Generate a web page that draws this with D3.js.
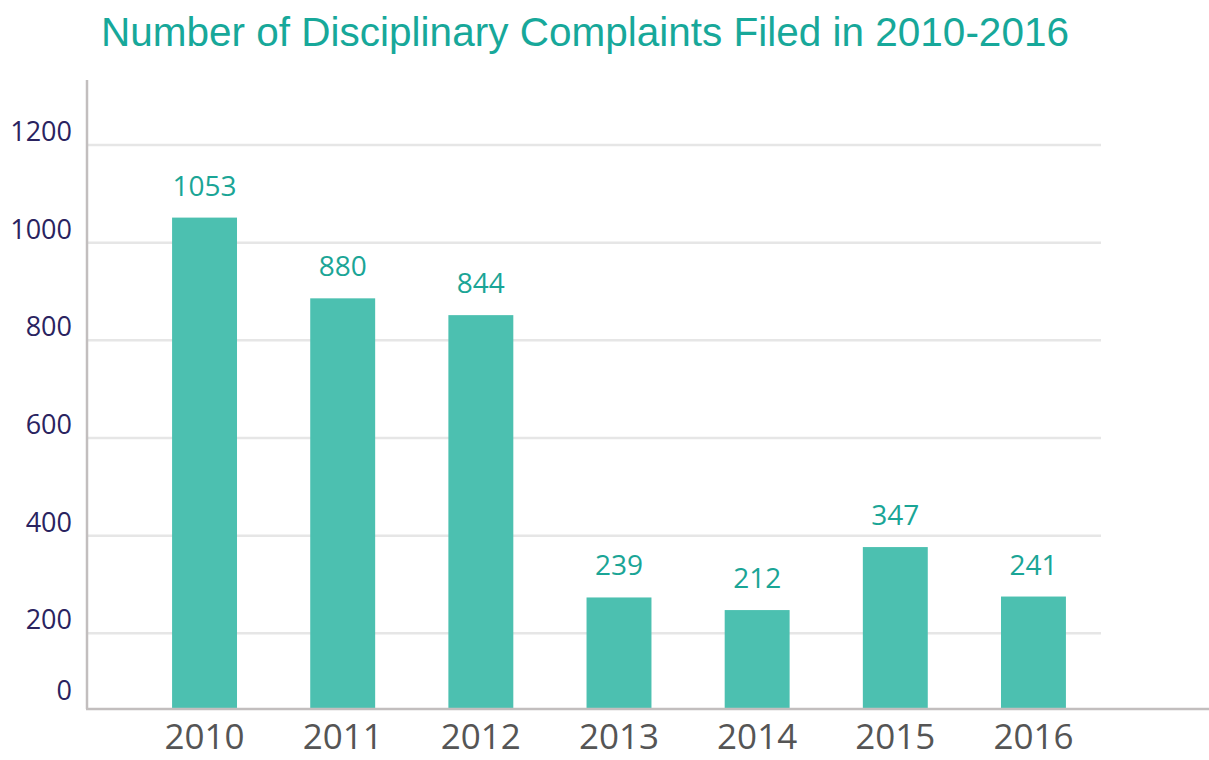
<!DOCTYPE html>
<html>
<head>
    <title>Disciplinary Complaints 2010-2016</title>
    <style>
        html, body { margin: 0; padding: 0; background: #fff; }
        .tick-label { font-family: "Open Sans", sans-serif; font-size: 27px; fill: #2a235f; text-anchor: end; }
        .year-label { font-family: "Open Sans", sans-serif; font-size: 35px; fill: #555555; text-anchor: middle; }
        .value-label { font-family: "Open Sans", sans-serif; font-size: 28px; fill: #1aa596; text-anchor: middle; }
    </style>
    <script src="https://d3js.org/d3.v7.min.js"></script>
</head>
<body>
<svg id="chart"></svg>
<script>
const years = ["2010", "2011", "2012", "2013", "2014", "2015", "2016"];
const complaints = [1053, 880, 844, 239, 212, 347, 241];
const yTicks = [0, 200, 400, 600, 800, 1000, 1200];

const width = 1209, height = 760;
const svg = d3.select("#chart").attr("width", width).attr("height", height);

const baseY = 709;

// gridline scale (as drawn in the original)
const yGrid = d3.scaleLinear().domain([0, 1200]).range([731, 145]);
// bar scale
const yBar = d3.scaleLinear().domain([0, 1200]).range([baseY, baseY - 560]);

const x = d3.scaleBand()
    .domain(years)
    .range([103, 1135])
    .paddingInner(0.53)
    .paddingOuter(0.5);

svg.append("text")
    .attr("x", 585)
    .attr("y", 46)
    .attr("text-anchor", "middle")
    .attr("font-family", "'Liberation Sans', Arial, sans-serif")
    .attr("font-size", "40.5px")
    .attr("fill", "#17a89a")
    .text("Number of Disciplinary Complaints Filed in 2010-2016");

// gridlines
svg.selectAll(".grid")
    .data(yTicks.filter(d => d > 0))
    .enter()
    .append("line")
    .attr("class", "grid")
    .attr("x1", 87)
    .attr("x2", 1101)
    .attr("y1", d => yGrid(d))
    .attr("y2", d => yGrid(d))
    .attr("stroke", "#e6e6e6")
    .attr("stroke-width", 2.5);

// tick labels
svg.selectAll(".tick-label")
    .data(yTicks)
    .enter()
    .append("text")
    .attr("class", "tick-label")
    .attr("x", 72)
    .attr("y", d => d === 0 ? baseY - 9 : yGrid(d) - 4)
    .text(d => d);

// bars
svg.selectAll(".bar")
    .data(complaints)
    .enter()
    .append("rect")
    .attr("class", "bar")
    .attr("x", (d, i) => x(years[i]))
    .attr("width", x.bandwidth())
    .attr("y", d => yBar(d))
    .attr("height", d => baseY - yBar(d))
    .attr("fill", "#4cc0b0");

svg.selectAll(".value-label")
    .data(complaints)
    .enter()
    .append("text")
    .attr("class", "value-label")
    .attr("x", (d, i) => x(years[i]) + x.bandwidth() / 2)
    .attr("y", d => yBar(d) - 22)
    .text(d => d);

// axes lines
svg.append("line")
    .attr("x1", 87).attr("x2", 87)
    .attr("y1", 80).attr("y2", baseY)
    .attr("stroke", "#c2bebe").attr("stroke-width", 2.5);
svg.append("line")
    .attr("x1", 86).attr("x2", 1209)
    .attr("y1", baseY).attr("y2", baseY)
    .attr("stroke", "#c2bebe").attr("stroke-width", 2.5);

svg.selectAll(".year-label")
    .data(years)
    .enter()
    .append("text")
    .attr("class", "year-label")
    .attr("x", d => x(d) + x.bandwidth() / 2)
    .attr("y", 749)
    .text(d => d);
</script>
</body>
</html>
